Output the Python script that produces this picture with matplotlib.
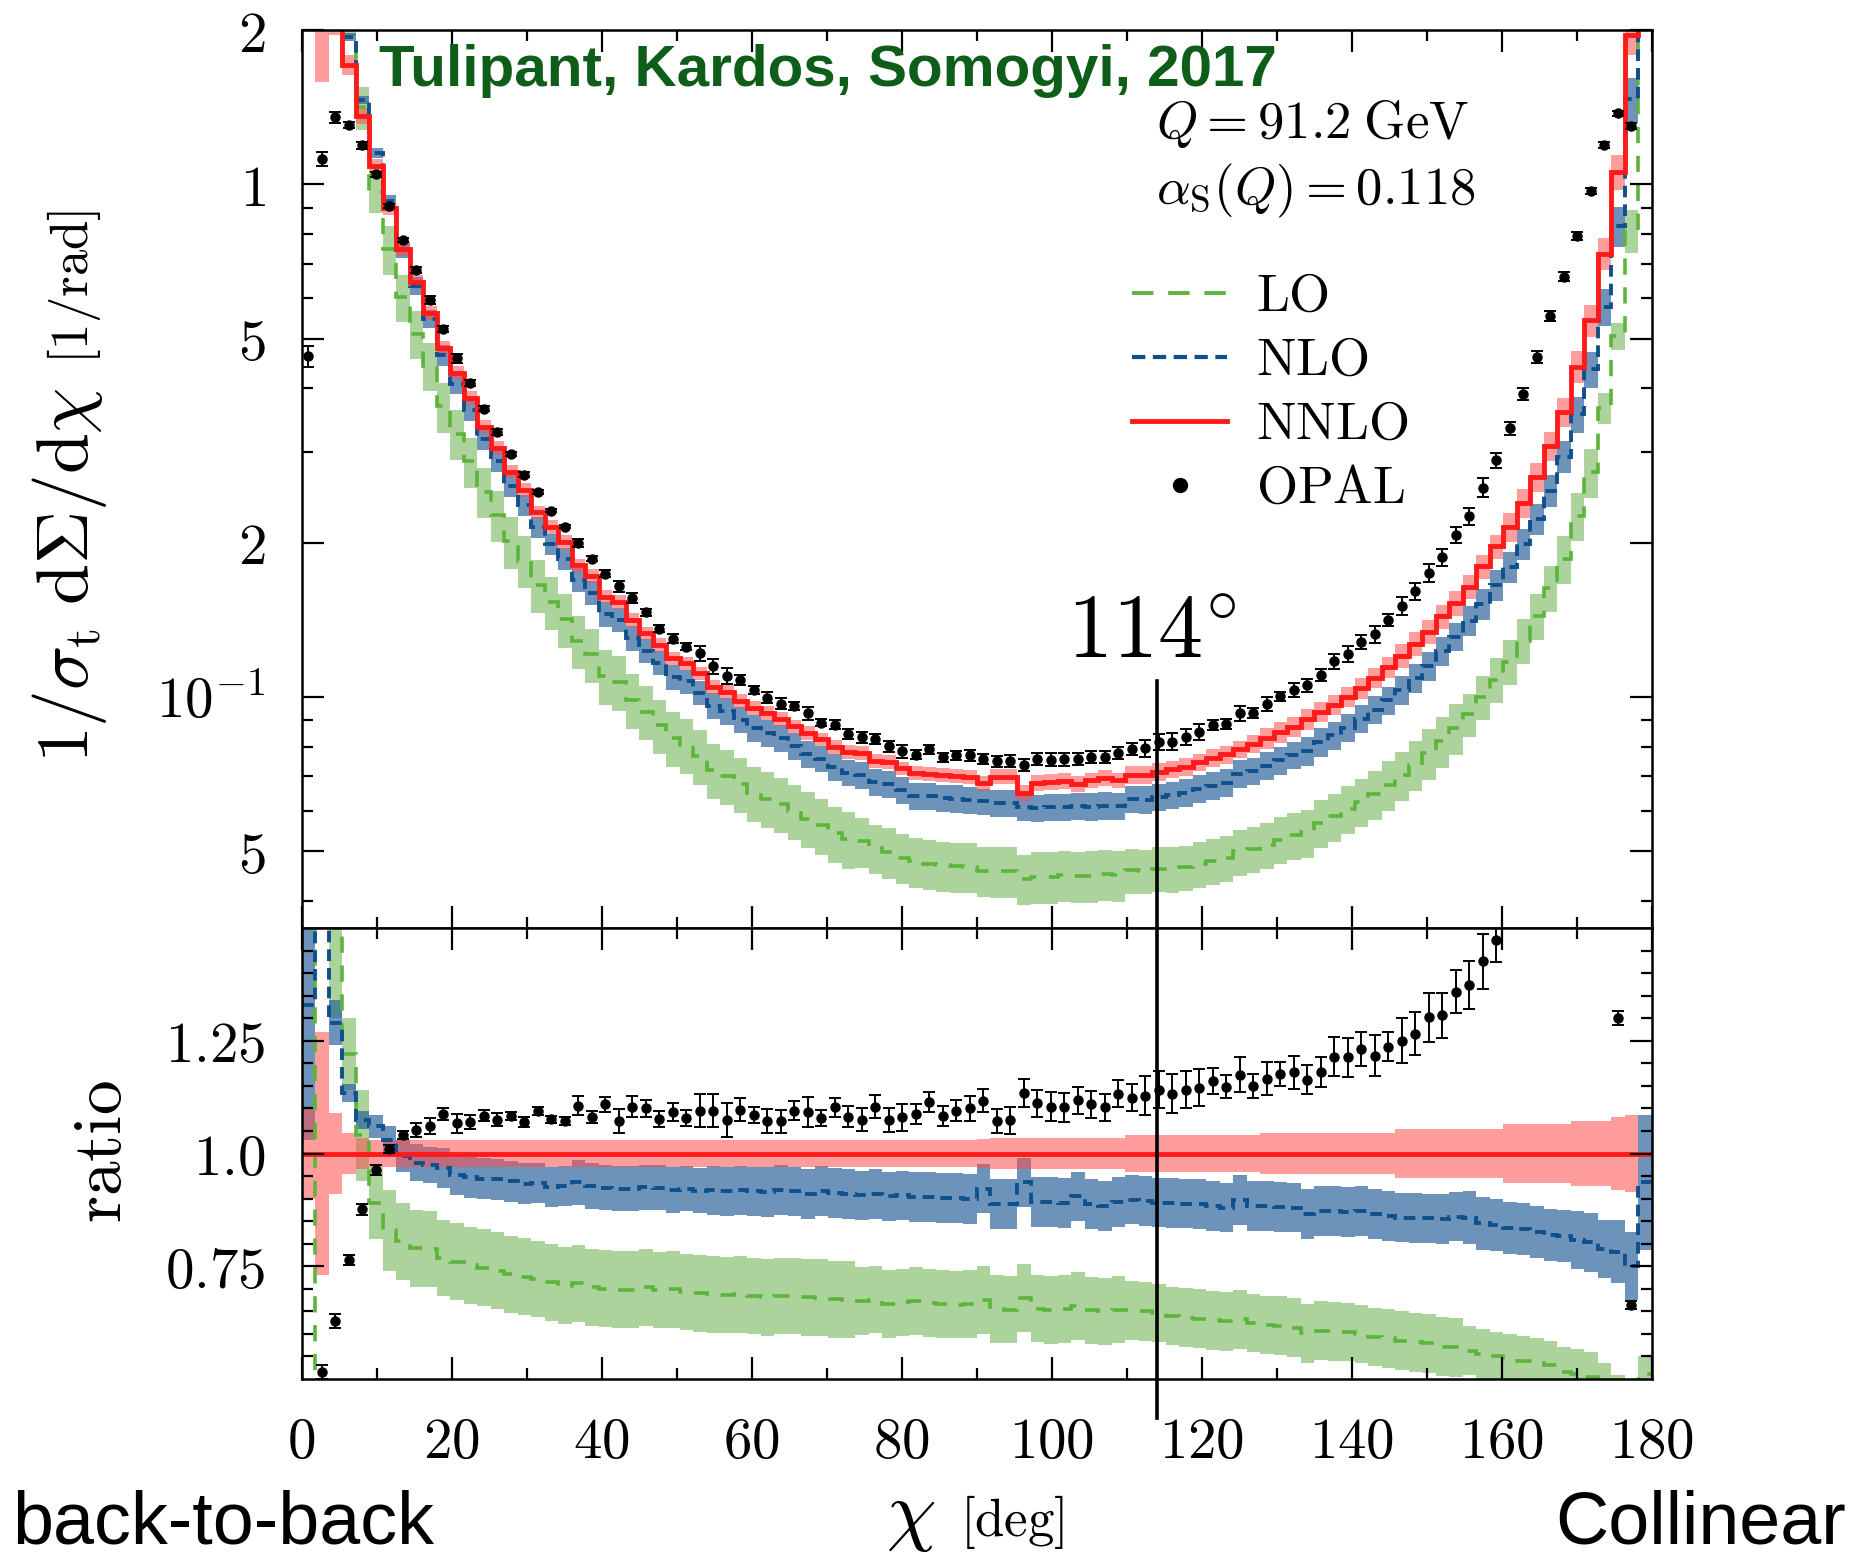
import numpy as np
import matplotlib
matplotlib.use("Agg")
import matplotlib.pyplot as plt
from matplotlib.lines import Line2D
from matplotlib.ticker import NullFormatter
from matplotlib.transforms import blended_transform_factory

plt.rcParams['mathtext.fontset'] = 'cm'
plt.rcParams['font.family'] = ['DejaVu Sans']

# chi bins in degrees, 100 bins of 1.8 deg
bin_edges = np.linspace(0.0, 180.0, 101)
centers = 0.5 * (bin_edges[:-1] + bin_edges[1:])

# NNLO prediction, 1/sigma_t dSigma/dchi [1/rad]
nnlo = [
    6.0, 2.17, 2.15, 1.71, 1.36, 1.086, 0.900, 0.748, 0.646, 0.561,
    0.480, 0.429, 0.383, 0.3366, 0.306, 0.275, 0.2535, 0.229, 0.2145, 0.2005,
    0.1807, 0.1721, 0.1569, 0.1533, 0.1412, 0.1330, 0.1262, 0.1189, 0.1163, 0.1111,
    0.1047, 0.1023, 0.0983, 0.0950, 0.0930, 0.0905, 0.0876, 0.0850, 0.0826, 0.0800,
    0.0782, 0.0776, 0.0750, 0.0746, 0.0725, 0.0710, 0.0708, 0.0704, 0.0702, 0.0699,
    0.0678, 0.0699, 0.0699, 0.0650, 0.0680, 0.0683, 0.0685, 0.0676, 0.0687, 0.0694,
    0.0687, 0.0704, 0.0704, 0.0715, 0.0722, 0.0731, 0.0745, 0.0759, 0.0772, 0.0790,
    0.0810, 0.0830, 0.0852, 0.0875, 0.0905, 0.0935, 0.0965, 0.1000, 0.1040, 0.1090,
    0.1142, 0.1203, 0.1270, 0.1341, 0.1435, 0.1523, 0.1641, 0.1796, 0.1965, 0.2149,
    0.2385, 0.269, 0.308, 0.360, 0.441, 0.543, 0.732, 1.058, 1.955, 4.5]

# ratios to NNLO (lower panel)
ratio_lo = [
    0.42, 1.90, 1.60, 1.22, 1.04, 0.89, 0.83, 0.805, 0.79, 0.788,
    0.768, 0.760, 0.752, 0.747, 0.740, 0.732, 0.727, 0.722, 0.714, 0.707,
    0.712, 0.703, 0.700, 0.698, 0.698, 0.703, 0.697, 0.699, 0.693, 0.690,
    0.688, 0.686, 0.688, 0.684, 0.681, 0.684, 0.684, 0.681, 0.680, 0.677,
    0.676, 0.673, 0.676, 0.667, 0.670, 0.673, 0.668, 0.666, 0.665, 0.667,
    0.675, 0.655, 0.654, 0.680, 0.656, 0.653, 0.655, 0.662, 0.652, 0.650,
    0.654, 0.652, 0.650, 0.646, 0.640, 0.636, 0.634, 0.630, 0.628, 0.632,
    0.624, 0.620, 0.618, 0.614, 0.601, 0.607, 0.606, 0.604, 0.600, 0.593,
    0.590, 0.585, 0.581, 0.579, 0.572, 0.570, 0.563, 0.556, 0.550, 0.545,
    0.540, 0.535, 0.530, 0.516, 0.511, 0.505, 0.500, 0.478, 0.415, 0.510]

ratio_nlo = [
    1.33, 1.90, 1.29, 1.135, 1.075, 1.06, 1.03, 0.995, 0.98, 0.975,
    0.968, 0.952, 0.947, 0.944, 0.943, 0.938, 0.933, 0.935, 0.926, 0.928,
    0.936, 0.928, 0.924, 0.922, 0.922, 0.925, 0.924, 0.919, 0.922, 0.917,
    0.918, 0.916, 0.918, 0.916, 0.915, 0.919, 0.916, 0.910, 0.917, 0.913,
    0.910, 0.907, 0.910, 0.905, 0.907, 0.903, 0.903, 0.901, 0.902, 0.899,
    0.922, 0.888, 0.888, 0.936, 0.893, 0.893, 0.890, 0.905, 0.888, 0.884,
    0.892, 0.898, 0.895, 0.891, 0.890, 0.889, 0.888, 0.883, 0.880, 0.897,
    0.884, 0.884, 0.882, 0.880, 0.866, 0.873, 0.872, 0.870, 0.872, 0.866,
    0.862, 0.858, 0.857, 0.856, 0.855, 0.860, 0.858, 0.845, 0.842, 0.835,
    0.832, 0.826, 0.820, 0.817, 0.808, 0.803, 0.788, 0.782, 0.750, 0.936]

# scale-uncertainty half widths, in ratio units
band_lo = [
    0.05, 0.30, 0.30, 0.08, 0.10, 0.08, 0.09, 0.085, 0.085, 0.085,
    0.085, 0.085, 0.085, 0.085, 0.085, 0.085, 0.085, 0.085, 0.085, 0.085,
    0.085, 0.085, 0.085, 0.085, 0.085, 0.085, 0.085, 0.085, 0.085, 0.085,
    0.085, 0.085, 0.085, 0.085, 0.085, 0.085, 0.085, 0.085, 0.085, 0.085,
    0.085, 0.075, 0.075, 0.075, 0.075, 0.075, 0.075, 0.075, 0.075, 0.075,
    0.075, 0.075, 0.075, 0.075, 0.075, 0.075, 0.075, 0.075, 0.075, 0.075,
    0.075, 0.065, 0.065, 0.065, 0.065, 0.065, 0.065, 0.065, 0.065, 0.065,
    0.065, 0.065, 0.065, 0.065, 0.065, 0.065, 0.065, 0.065, 0.065, 0.065,
    0.065, 0.065, 0.065, 0.065, 0.065, 0.065, 0.055, 0.055, 0.055, 0.055,
    0.055, 0.055, 0.055, 0.055, 0.055, 0.055, 0.035, 0.030, 0.040, 0.040]

band_nlo = [
    0.30, 0.30, 0.05, 0.02, 0.02, 0.025, 0.03, 0.035, 0.04, 0.04,
    0.045, 0.045, 0.045, 0.045, 0.045, 0.045, 0.045, 0.045, 0.045, 0.045,
    0.05, 0.05, 0.05, 0.05, 0.05, 0.05, 0.05, 0.05, 0.05, 0.05,
    0.055, 0.055, 0.055, 0.055, 0.055, 0.055, 0.055, 0.055, 0.055, 0.055,
    0.055, 0.055, 0.055, 0.055, 0.055, 0.055, 0.055, 0.055, 0.055, 0.055,
    0.055, 0.055, 0.055, 0.055, 0.055, 0.055, 0.055, 0.055, 0.055, 0.055,
    0.055, 0.055, 0.055, 0.055, 0.055, 0.055, 0.055, 0.055, 0.055, 0.055,
    0.055, 0.055, 0.055, 0.055, 0.055, 0.055, 0.055, 0.055, 0.055, 0.055,
    0.055, 0.055, 0.055, 0.055, 0.055, 0.055, 0.058, 0.058, 0.058, 0.058,
    0.058, 0.058, 0.058, 0.058, 0.065, 0.065, 0.065, 0.07, 0.075, 0.15]

band_nnlo = [
    0.10, 0.27, 0.09, 0.045, 0.035, 0.03, 0.03, 0.03, 0.03, 0.03,
    0.03, 0.03, 0.03, 0.03, 0.03, 0.03, 0.03, 0.03, 0.03, 0.03,
    0.03, 0.03, 0.03, 0.03, 0.03, 0.03, 0.03, 0.03, 0.03, 0.03,
    0.031, 0.031, 0.031, 0.031, 0.031, 0.031, 0.031, 0.031, 0.031, 0.031,
    0.031, 0.031, 0.031, 0.031, 0.031, 0.031, 0.031, 0.031, 0.031, 0.031,
    0.032, 0.035, 0.035, 0.035, 0.035, 0.035, 0.035, 0.035, 0.035, 0.035,
    0.035, 0.04, 0.04, 0.04, 0.04, 0.04, 0.04, 0.04, 0.04, 0.04,
    0.04, 0.046, 0.046, 0.046, 0.046, 0.046, 0.046, 0.046, 0.046, 0.046,
    0.046, 0.055, 0.055, 0.055, 0.055, 0.055, 0.055, 0.055, 0.055, 0.065,
    0.065, 0.065, 0.065, 0.065, 0.072, 0.072, 0.072, 0.08, 0.085, 0.0]

# OPAL data / NNLO and its error (ratio units)
ratio_opal = [
    0.077, 0.516, 0.629, 0.764, 0.876, 0.964, 1.010, 1.041, 1.052, 1.061,
    1.087, 1.067, 1.070, 1.084, 1.075, 1.084, 1.070, 1.095, 1.076, 1.072,
    1.106, 1.081, 1.109, 1.072, 1.104, 1.100, 1.076, 1.092, 1.078, 1.095,
    1.095, 1.074, 1.097, 1.085, 1.072, 1.071, 1.095, 1.092, 1.078, 1.102,
    1.082, 1.075, 1.104, 1.074, 1.080, 1.087, 1.115, 1.084, 1.095, 1.100,
    1.117, 1.072, 1.074, 1.135, 1.111, 1.104, 1.102, 1.118, 1.109, 1.102,
    1.132, 1.124, 1.128, 1.141, 1.133, 1.141, 1.146, 1.161, 1.148, 1.175,
    1.150, 1.166, 1.176, 1.180, 1.164, 1.181, 1.215, 1.213, 1.232, 1.217,
    1.237, 1.250, 1.266, 1.302, 1.306, 1.359, 1.373, 1.426, 1.474, 1.556,
    1.635, 1.714, 1.800, 1.835, 1.798, 1.786, 1.630, 1.300, 0.664, np.nan]

err_opal = [
    0.0035, 0.016, 0.016, 0.011, 0.013, 0.011, 0.009, 0.009, 0.015, 0.018,
    0.013, 0.021, 0.015, 0.013, 0.015, 0.009, 0.011, 0.009, 0.008, 0.008,
    0.021, 0.013, 0.016, 0.026, 0.024, 0.018, 0.018, 0.021, 0.018, 0.037,
    0.037, 0.037, 0.026, 0.018, 0.026, 0.026, 0.021, 0.033, 0.018, 0.022,
    0.024, 0.026, 0.026, 0.026, 0.030, 0.022, 0.022, 0.022, 0.024, 0.027,
    0.026, 0.026, 0.030, 0.031, 0.030, 0.032, 0.032, 0.030, 0.030, 0.030,
    0.030, 0.030, 0.043, 0.041, 0.044, 0.041, 0.041, 0.028, 0.026, 0.038,
    0.026, 0.036, 0.026, 0.036, 0.033, 0.033, 0.043, 0.043, 0.038, 0.046,
    0.033, 0.050, 0.047, 0.054, 0.050, 0.047, 0.053, 0.061, 0.050, 0.045,
    0.042, 0.045, 0.040, 0.035, 0.030, 0.025, 0.025, 0.015, 0.009, np.nan]

x_ticks = [0, 20, 40, 60, 80, 100, 120, 140, 160, 180]
top_ticks = [0.05, 0.1, 0.2, 0.5, 1.0, 2.0]
top_labels = ['$5$', '$10^{-1}$', '$2$', '$5$', '$1$', '$2$']
top_minor = [0.04, 0.06, 0.07, 0.08, 0.09, 0.3, 0.4, 0.6, 0.7, 0.8, 0.9]
ratio_ticks = [0.75, 1.0, 1.25]
ratio_labels = ['$0.75$', '$1.0$', '$1.25$']

nnlo = np.array(nnlo)
ratio_lo, ratio_nlo = np.array(ratio_lo), np.array(ratio_nlo)
band_lo, band_nlo, band_nnlo = np.array(band_lo), np.array(band_nlo), np.array(band_nnlo)
ratio_opal, err_opal = np.array(ratio_opal), np.array(err_opal)
ratio_nnlo = np.ones_like(nnlo)

W, H = 1858, 1562
fig = plt.figure(figsize=(W / 100, H / 100), dpi=100)


def fx(px):
    return px / W


def fy(py):
    return 1 - py / H


left, right = 301.5, 1651.5
ax1 = fig.add_axes([fx(left), fy(928), fx(right) - fx(left), fy(30) - fy(928)])
ax2 = fig.add_axes([fx(left), fy(1379), fx(right) - fx(left), fy(928) - fy(1379)])

c_lo, c_nlo, c_nnlo = '#5db43c', '#0f508c', '#ff1a1a'
f_lo, f_nlo, f_nnlo = '#6ab04c', '#1f5a96', '#ff4d4d'


def ext(a):
    return np.append(a, a[-1])


def draw_panel(ax, scale):
    for r, b, col, al in [(ratio_lo, band_lo, f_lo, 0.55),
                          (ratio_nlo, band_nlo, f_nlo, 0.65),
                          (ratio_nnlo, band_nnlo, f_nnlo, 0.55)]:
        ax.fill_between(bin_edges, ext((r - b) * scale), ext((r + b) * scale),
                        step='post', color=col, alpha=al, lw=0)
    ax.stairs(ratio_lo * scale, bin_edges, color=c_lo, lw=2.6,
              ls=(0, (4.5, 3.5)), baseline=None)
    ax.stairs(ratio_nlo * scale, bin_edges, color=c_nlo, lw=2.8,
              ls=(0, (3, 1.8)), baseline=None)
    ax.stairs(ratio_nnlo * scale, bin_edges, color=c_nnlo, lw=3.5, baseline=None)
    ax.errorbar(centers, ratio_opal * scale, yerr=err_opal * scale, fmt='o',
                color='k', ms=6.5, capsize=4, elinewidth=1.4, capthick=1.4)


draw_panel(ax1, nnlo)
draw_panel(ax2, np.ones_like(nnlo))

for ax in (ax1, ax2):
    ax.set_xlim(0, 180)
    ax.set_xticks(x_ticks)
    ax.set_xticks([10, 30, 50, 70, 90, 110, 130, 150, 170], minor=True)
    ax.tick_params(which='both', direction='in', top=True, right=True,
                   width=1.6, labelsize=41, pad=26)
    ax.tick_params(which='major', length=16)
    ax.tick_params(which='minor', length=8)
    for s in ax.spines.values():
        s.set_linewidth(1.8)

ax1.set_yscale('log')
ax1.set_ylim(0.0354, 2.0)
ax1.set_yticks(top_ticks)
ax1.set_yticklabels(top_labels)
ax1.set_yticks(top_minor, minor=True)
ax1.yaxis.set_minor_formatter(NullFormatter())
ax1.tick_params(labelbottom=False)

ax2.set_ylim(0.5, 1.5)
ax2.set_yticks(ratio_ticks)
ax2.set_yticklabels(ratio_labels)
ax2.set_yticks([v / 100 for v in range(55, 150, 5) if v not in (75, 100, 125)], minor=True)
ax2.set_xticklabels(['$%d$' % t for t in x_ticks])

# 114 degree marker
trans = blended_transform_factory(ax2.transData, fig.transFigure)
fig.add_artist(Line2D([114, 114], [fy(681), fy(1418)], transform=trans,
                      color='k', lw=2.6))
fig.text(113.3, fy(658), r'$114^{\circ}$', transform=trans, fontsize=65,
         ha='center', va='baseline')

# legend, drawn by hand
rows = [293, 357, 421, 485]
fig.add_artist(Line2D([fx(1132), fx(1227)], [fy(rows[0])] * 2, color=c_lo,
                      lw=2.8, ls=(0, (5.5, 3.8))))
fig.add_artist(Line2D([fx(1132), fx(1227)], [fy(rows[1])] * 2, color=c_nlo,
                      lw=3.0, ls=(0, (3.2, 1.8))))
fig.add_artist(Line2D([fx(1132), fx(1227)], [fy(rows[2])] * 2, color=c_nnlo, lw=3.5))
fig.add_artist(Line2D([fx(1180)], [fy(rows[3])], color='k', marker='o', ms=10, ls='none'))
for yy, lab in zip(rows, ['LO', 'NLO', 'NNLO', 'OPAL']):
    fig.text(fx(1256), fy(yy + 18), r'$\mathrm{%s}$' % lab, fontsize=38,
             ha='left', va='baseline')

fig.text(fx(1156), fy(138), r'$Q = 91.2\;\mathrm{GeV}$', fontsize=38,
         ha='left', va='baseline')
fig.text(fx(1156), fy(204), r'$\alpha_{\mathrm{S}}(Q) = 0.118$', fontsize=38,
         ha='left', va='baseline')

fig.text(fx(379), fy(86), 'Tulipant, Kardos, Somogyi, 2017', color='#0e5e1a',
         fontsize=42, fontweight='bold', family=['Liberation Sans', 'DejaVu Sans'],
         ha='left', va='baseline')

# axis labels
fig.text(fx(70), fy(575), r'$1/\sigma_{\mathrm{t}}\;\mathrm{d}\Sigma/\mathrm{d}\chi$',
         rotation=90, fontsize=53, ha='center', va='center')
fig.text(fx(74), fy(287), r'$[1/\mathrm{rad}]$', rotation=90, fontsize=38,
         ha='center', va='center')
fig.text(fx(101), fy(1152), r'$\mathrm{ratio}$', rotation=90, fontsize=50,
         ha='center', va='center')
fig.text(fx(911), fy(1536), r'$\chi$', fontsize=57, ha='center', va='baseline')
fig.text(fx(960), fy(1536), r'$[\mathrm{deg}]$', fontsize=38, ha='left', va='baseline')

fig.text(fx(12), fy(1543), 'back-to-back', fontsize=53,
         family=['Liberation Sans', 'DejaVu Sans'], ha='left', va='baseline')
fig.text(fx(1846), fy(1543), 'Collinear', fontsize=53,
         family=['Liberation Sans', 'DejaVu Sans'], ha='right', va='baseline')

fig.savefig('out.png', dpi=100)
